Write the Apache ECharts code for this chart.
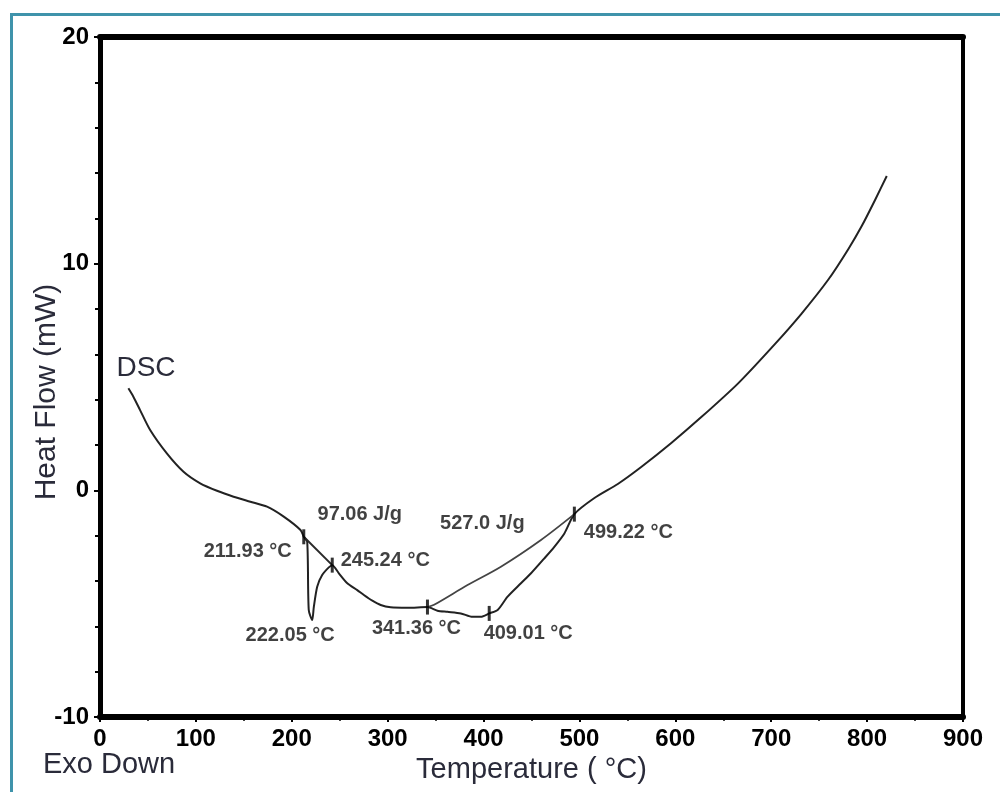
<!DOCTYPE html>
<html><head><meta charset="utf-8">
<script src="https://cdn.jsdelivr.net/npm/echarts@6/dist/echarts.min.js"></script>
<style>html,body{margin:0;padding:0;background:#fff}#c{width:1000px;height:792px}</style>
</head><body><div id="c"></div>
<script>
// ---- data ----
const curveT = [29.6,34.8,41.8,52.3,69.7,87.1,104.5,122.0,139.3,156.8,174.2,191.6,209.1,212.5,216.1,217.7,221.3,223.0,226.5,231.7,238.6,242.2,249.1,257.9,268.3,275.2,284.0,292.7,303.1,320.6,341.5,351.9,362.4,376.3,388.5,397.2,405.9,414.7,425.1,439.0,449.5,463.4,473.8,484.3,494.7,515.6,540.0,564.4,595.8,627.1,665.5,703.8,731.7,759.6,780.5,794.4,808.3,820.5];
const curveY = [4.50,4.13,3.54,2.66,1.63,0.82,0.31,-0.02,-0.28,-0.50,-0.72,-1.16,-1.75,-2.05,-2.27,-5.28,-5.72,-5.14,-4.25,-3.74,-3.40,-3.30,-3.66,-4.10,-4.40,-4.62,-4.87,-5.06,-5.16,-5.18,-5.15,-5.31,-5.36,-5.43,-5.58,-5.58,-5.43,-5.28,-4.69,-4.10,-3.66,-3.00,-2.49,-1.90,-1.05,-0.34,0.28,1.03,2.09,3.23,4.72,6.45,7.80,9.30,10.65,11.66,12.81,13.87];
const baseline1T = [212.5, 242.2];
const baseline1Y = [-2.05, -3.30];
const baseline2T = [341.5, 348.4, 383.3, 418.1, 459.9, 494.7];
const baseline2Y = [-5.15, -5.05, -4.18, -3.37, -2.19, -1.05];
const eventT = [212.5, 242.2, 341.5, 405.9, 494.7];
const eventY = [-2.05, -3.30, -5.15, -5.43, -1.05];
const eventLabels = ['211.93 °C', '245.24 °C', '341.36 °C', '409.01 °C', '499.22 °C'];
const peakT = [221.3];
const peakY = [-5.72];
const peakLabels = ['222.05 °C'];
const enthalpyLabels = ['97.06 J/g', '527.0 J/g'];
const xTickValues = [0,100,200,300,400,500,600,700,800,900];
const xTickLabels = ['0','100','200','300','400','500','600','700','800','900'];
const yTickValues = [-10,0,10,20];
const yTickLabels = ['-10','0','10','20'];

// ---- build ----
const zip = (a, b) => a.map((v, i) => [v, b[i]]);
const tickFont = "'Liberation Sans',Arial,sans-serif";
const textFont = "'Liberation Sans',Arial,sans-serif";
const nameColor = '#2a2b3a';

const eventOffsets = [[-56, 15], [53, -5], [-11, 21], [39, 20], [54, 18]];
const peakOffsets = [[-22, 15]];
const enthalpyAnchors = [0, 4];
const enthalpyOffsets = [[56, -22], [-92, 9]];

const labelData = [];
eventLabels.forEach((t, i) => labelData.push({value: [eventT[i], eventY[i]], label: {formatter: t, offset: eventOffsets[i]}}));
peakLabels.forEach((t, i) => labelData.push({value: [peakT[i], peakY[i]], label: {formatter: t, offset: peakOffsets[i]}}));
enthalpyLabels.forEach((t, i) => {
  const k = enthalpyAnchors[i];
  labelData.push({value: [eventT[k], eventY[k]], label: {formatter: t, offset: enthalpyOffsets[i]}});
});

const chart = echarts.init(document.getElementById('c'), null, {renderer: 'canvas'});
const axisLabelStyle = {color: '#000', fontFamily: tickFont, fontWeight: 'bold', fontSize: 24};

chart.setOption({
  animation: false,
  backgroundColor: '#fff',
  grid: {left: 100, right: 37, top: 37, bottom: 75, show: false},
  xAxis: [{
    type: 'value', min: 0, max: 900, interval: 100, position: 'bottom',
    axisLine: {show: true, onZero: false, lineStyle: {color: '#000', width: 6}},
    axisTick: {show: true, length: 5, lineStyle: {color: '#000', width: 2}},
    minorTick: {show: true, splitNumber: 2, length: 4, lineStyle: {color: '#000', width: 1.5}},
    splitLine: {show: false},
    axisLabel: Object.assign({margin: 10, formatter: v => xTickLabels[xTickValues.indexOf(v)]}, axisLabelStyle),
    name: 'Temperature ( °C)', nameLocation: 'middle', nameGap: 33,
    nameTextStyle: {color: nameColor, fontFamily: textFont, fontSize: 29}
  }, {
    type: 'value', min: 0, max: 900, position: 'top',
    axisLine: {show: true, onZero: false, lineStyle: {color: '#000', width: 6}},
    axisTick: {show: false}, axisLabel: {show: false}, splitLine: {show: false}
  }],
  yAxis: [{
    type: 'value', min: -10, max: 20, interval: 10, position: 'left',
    axisLine: {show: true, onZero: false, lineStyle: {color: '#000', width: 5}},
    axisTick: {show: true, length: 6, lineStyle: {color: '#000', width: 2}},
    minorTick: {show: true, splitNumber: 5, length: 5, lineStyle: {color: '#000', width: 2}},
    splitLine: {show: false},
    axisLabel: Object.assign({margin: 11, formatter: v => yTickLabels[yTickValues.indexOf(v)]}, axisLabelStyle)
  }, {
    type: 'value', min: -10, max: 20, position: 'right',
    axisLine: {show: true, onZero: false, lineStyle: {color: '#000', width: 4}},
    axisTick: {show: false}, axisLabel: {show: false}, splitLine: {show: false}
  }],
  series: [{
    type: 'line', data: zip(curveT, curveY), showSymbol: false, smooth: 0.25,
    lineStyle: {color: '#222', width: 2}, silent: true, z: 3
  }, {
    type: 'line', data: zip(baseline1T, baseline1Y), showSymbol: false,
    lineStyle: {color: '#2a2a2a', width: 2}, silent: true, z: 3
  }, {
    type: 'line', data: zip(baseline2T, baseline2Y), showSymbol: false, smooth: 0.3,
    lineStyle: {color: '#444', width: 1.8}, silent: true, z: 3
  }, {
    type: 'scatter', data: zip(eventT, eventY), symbol: 'rect', symbolSize: [3, 15],
    itemStyle: {color: '#000'}, silent: true, z: 4
  }, {
    type: 'scatter', data: labelData, symbol: 'circle', symbolSize: 1,
    itemStyle: {color: 'rgba(0,0,0,0)'}, silent: true, z: 5,
    label: {show: true, position: 'inside', align: 'center', verticalAlign: 'middle',
      color: '#111', fontFamily: textFont, fontWeight: 'bold', fontSize: 20}
  }],
  graphic: [
    {type: 'rect', shape: {x: 11.5, y: 14.5, width: 1000, height: 800},
      style: {fill: 'none', stroke: '#3f93ab', lineWidth: 3}, silent: true, z: 0},
    {type: 'text', x: 146, y: 368, silent: true,
      style: {text: 'DSC', font: '28px ' + textFont, fill: nameColor, align: 'center', verticalAlign: 'middle'}},
    {type: 'text', x: 43, y: 765, silent: true,
      style: {text: 'Exo Down', font: '29px ' + textFont, fill: nameColor, align: 'left', verticalAlign: 'middle'}},
    {type: 'text', x: 47, y: 392, rotation: Math.PI / 2, silent: true,
      style: {text: 'Heat Flow (mW)', font: '30px ' + textFont, fill: nameColor, align: 'center', verticalAlign: 'middle'}}
  ]
});
</script>
</body></html>
